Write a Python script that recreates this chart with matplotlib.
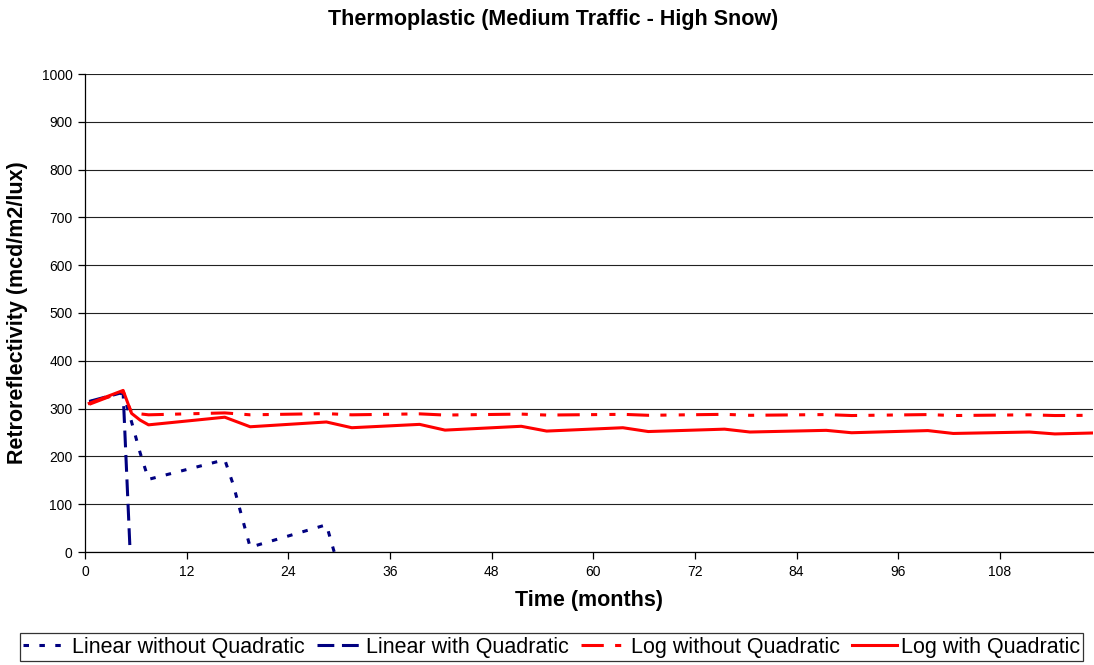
import matplotlib
matplotlib.use("Agg")
import matplotlib.pyplot as plt

plt.rcParams["font.family"] = ["Liberation Sans", "DejaVu Sans"]

TITLE = "Thermoplastic (Medium Traffic - High Snow)"
XLABEL = "Time (months)"
YLABEL = "Retroreflectivity (mcd/m2/lux)"
NAVY = "#000080"
RED = "#ff0000"

# Linear without Quadratic (dotted navy)
lin_noq_m = [0.5, 4.5, 5.5, 6.5, 7.5, 16.5, 17.5, 18.5, 19.5, 28.5, 29.5]
lin_noq_v = [314, 333, 272, 208, 152, 193, 141, 75, 10, 57, -5]

# Linear with Quadratic (long dash navy)
lin_q_m = [0.5, 4.5, 5.5]
lin_q_v = [315, 334, -70]

# Log without Quadratic (long dash dot dot red)
log_noq_m = [0.5, 4.5, 5.5, 7.5, 16.5, 19.5, 28.5, 31.5, 39.5, 42.5, 51.5, 54.5,
             63.5, 66.5, 75.5, 78.5, 87.5, 90.5, 99.5, 102.5, 111.5, 114.5, 119]
log_noq_v = [309, 336, 291, 287, 291, 287, 289.5, 287, 289, 286.5, 288.5, 286.5,
             288, 286, 288, 286, 287.5, 285.5, 287.5, 285.5, 287, 285.5, 286]

# Log with Quadratic (solid red)
log_q_m = [0.5, 4.5, 5.5, 6.5, 7.5, 16.5, 19.5, 28.5, 31.5, 39.5, 42.5, 51.5, 54.5,
           63.5, 66.5, 75.5, 78.5, 87.5, 90.5, 99.5, 102.5, 111.5, 114.5, 119]
log_q_v = [311, 338, 290, 276, 266, 282, 262, 272, 260, 267, 255, 263, 253,
           260, 252, 257, 251, 254.5, 249.5, 254, 248, 251, 247, 249]

X_TICKS = list(range(0, 109, 12))
Y_TICKS = list(range(0, 1001, 100))

fig = plt.figure(figsize=(10.94, 6.65), dpi=100)
ax = fig.add_axes([85 / 1094, 1 - 552 / 665, 1008 / 1094, 478 / 665])

lw = 2.2
ax.plot(lin_noq_m, lin_noq_v, color=NAVY, lw=lw, dashes=(1.8, 3.4),
        label="Linear without Quadratic")
ax.plot(lin_q_m, lin_q_v, color=NAVY, lw=lw, dashes=(5.5, 2.5),
        label="Linear with Quadratic")
ax.plot(log_noq_m, log_noq_v, color=RED, lw=lw,
        dashes=(7.3, 3.7, 2, 4, 2, 3.7), label="Log without Quadratic")
ax.plot(log_q_m, log_q_v, color=RED, lw=lw, label="Log with Quadratic")

ax.set_xlim(0, 119)
ax.set_ylim(0, 1000)
ax.set_xticks(X_TICKS)
ax.set_yticks(Y_TICKS)
ax.grid(True, axis="y", color="#222222", lw=0.8)
ax.set_axisbelow(True)
for sp in ("top", "right"):
    ax.spines[sp].set_visible(False)
for sp in ("left", "bottom"):
    ax.spines[sp].set_color("black")
    ax.spines[sp].set_linewidth(0.9)
ax.tick_params(direction="out", length=5, width=0.9, colors="black",
               labelsize=10, pad=4)

ax.set_xlabel(XLABEL, fontsize=15.5, fontweight="bold", labelpad=8)
fig.text(18 / 1094, 1 - 313 / 665, YLABEL, rotation=90, fontsize=15.5,
         fontweight="bold", ha="center", va="center")
fig.text(553 / 1094, 1 - 20 / 665, TITLE, fontsize=15.5, fontweight="bold",
         ha="center", va="center")

leg = fig.legend(loc="center", bbox_to_anchor=(551.5 / 1094, 1 - 647 / 665),
                 ncol=4, fontsize=15.5, frameon=True, fancybox=False,
                 edgecolor="black", handlelength=2.1, handletextpad=0.2,
                 columnspacing=0.55, borderpad=0.15, borderaxespad=0)
leg.get_frame().set_linewidth(0.9)

fig.savefig("out.png", dpi=100, facecolor="white")
